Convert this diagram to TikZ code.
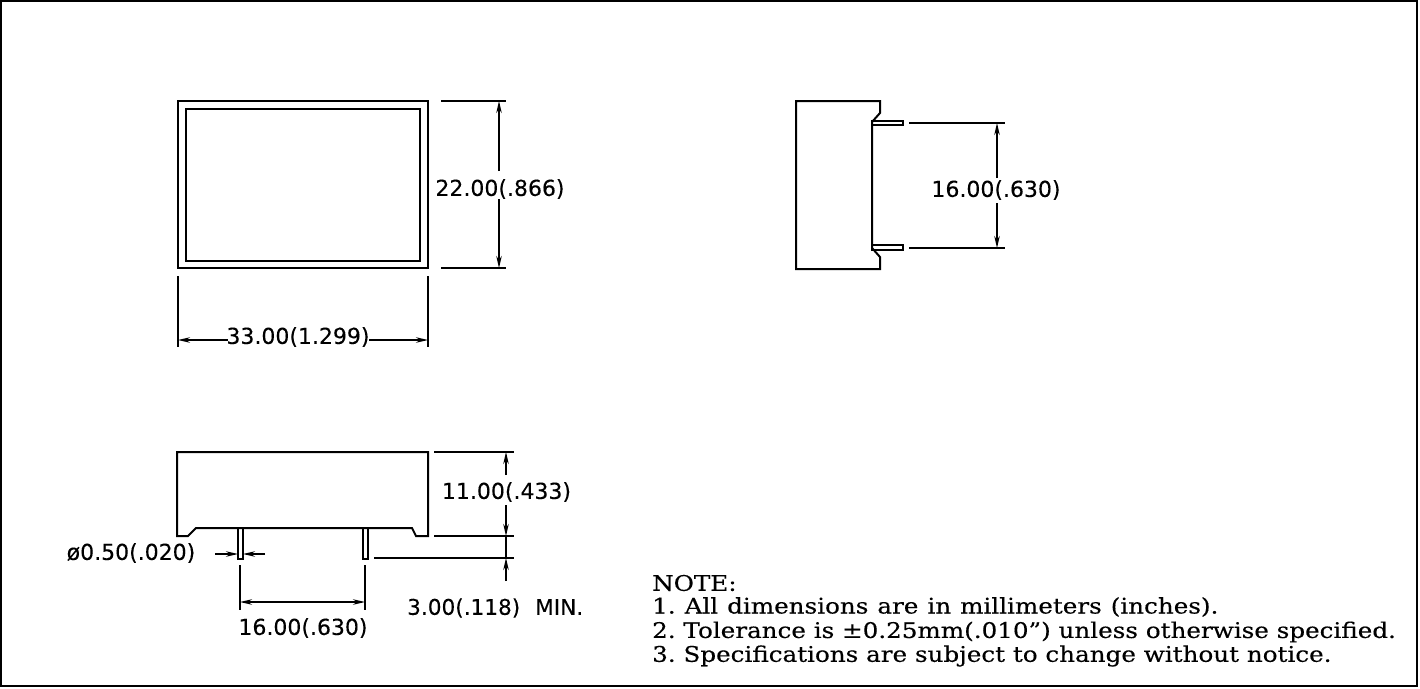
\documentclass[tikz,border=0pt]{standalone}
\usepackage{fontspec}
\usetikzlibrary{arrows.meta}
\newfontfamily\dimfont[FakeBold=0.15]{DejaVu Sans}
\newfontfamily\notefont[FakeStretch=1.145,FakeBold=0.3]{DejaVu Serif}
\tikzset{
  every picture/.style={x=1pt,y=-1pt},
  body/.style={line width=2pt,black,line join=miter},
  thin line/.style={line width=1.6pt,black},
  dimline/.style={line width=1.6pt,black,{Stealth[length=12pt,width=5.5pt]}-{Stealth[length=12pt,width=5.5pt]}},
  dimend/.style={line width=1.6pt,black,-{Stealth[length=12pt,width=5.5pt]}},
  dimtext/.style={font=\dimfont\fontsize{22}{26}\selectfont,inner sep=0pt,anchor=center},
  notetext/.style={font=\notefont\fontsize{21.5}{26}\selectfont,inner sep=0pt,anchor=west},
}
\begin{document}
\begin{tikzpicture}
\useasboundingbox (0,0) rectangle (1420,688);
\fill[white] (0,0) rectangle (1420,688);
\draw[line width=2pt] (1,1) rectangle (1417,686);

% top view
\draw[body] (178,101) rectangle (428,268);
\draw[body] (186,109) rectangle (420,261);
\coordinate (a1) at (499,101); \coordinate (a2) at (499,268);
\draw[thin line] (441,101) -- (506,101);
\draw[thin line] (441,268) -- (506,268);
\node[dimtext] (t22) at (500,189) {22.00(.866)};
\draw[dimend] (499,171) -- (a1);
\draw[dimend] (499,199) -- (a2);
% width
\coordinate (b1) at (178,340); \coordinate (b2) at (428,340);
\draw[thin line] (178,276) -- (178,347);
\draw[thin line] (428,276) -- (428,347);
\node[dimtext] (t33) at (298,337) {33.00(1.299)};
\draw[dimend] (228,340) -- (b1);
\draw[dimend] (369,340) -- (b2);

% side view
\draw[body] (872,122) -- (880,113) -- (880,101) -- (796,101) -- (796,269) -- (880,269) -- (880,257) -- (872,248) -- cycle;
\draw[thin line] (872,121) rectangle (903,125);
\draw[thin line] (872,245) rectangle (903,250);
\draw[thin line] (909,123) -- (1005,123);
\draw[thin line] (909,248) -- (1005,248);
\coordinate (c1) at (997,123); \coordinate (c2) at (997,248);
\node[dimtext] (t16a) at (996,190) {16.00(.630)};
\draw[dimend] (997,178) -- (c1);
\draw[dimend] (997,203) -- (c2);

% front view
\draw[body] (177,452) -- (428,452) -- (428,536) -- (416,536) -- (412,528) -- (196,528) -- (188,536) -- (177,536) -- cycle;
\draw[thin line] (238,528) rectangle (243,559);
\draw[thin line] (363,528) rectangle (368,559);
% pin diameter
\coordinate (d1) at (238,554); \coordinate (d2) at (243,554);
\draw[dimend] (215,554) -- (d1);
\draw[dimend] (265,554) -- (d2);
\node[dimtext] (tphi) at (131,553) {ø0.50(.020)};
% pin spacing
\draw[thin line] (240,565) -- (240,610);
\draw[thin line] (365,565) -- (365,610);
\coordinate (e1) at (240,602); \coordinate (e2) at (365,602);
\draw[dimline] (e1) -- (e2);
\node[dimtext] (t16b) at (303,628) {16.00(.630)};
% height
\draw[thin line] (434,452) -- (514,452);
\draw[thin line] (434,536) -- (514,536);
\draw[thin line] (374,558) -- (514,558);
\coordinate (f1) at (506,452); \coordinate (f2) at (506,536); \coordinate (f3) at (506,558);
\node[dimtext] (t11) at (506.5,492) {11.00(.433)};
\draw[dimend] (506,475) -- (f1);
\draw[dimend] (506,505) -- (f2);
\draw[thin line] (f2) -- (f3);
\draw[dimend] (506,581) -- (f3);
\node[dimtext,font=\dimfont\fontsize{21.6}{26}\selectfont,anchor=west] (t3) at (407,608) {3.00(.118)\hspace{15pt}MIN.};

% notes
\node[notetext] (n0) at (652,583) {NOTE:};
\node[notetext] (n1) at (652,607) {\spaceskip=9pt 1.\ All dimensions are in millimeters (inches).};
\node[notetext] (n2) at (652,632) {2.\ Tolerance is ±0.25mm(.010”) unless otherwise specified.};
\node[notetext] (n3) at (652,656) {3.\ Specifications are subject to change without notice.};
\end{tikzpicture}
\end{document}
